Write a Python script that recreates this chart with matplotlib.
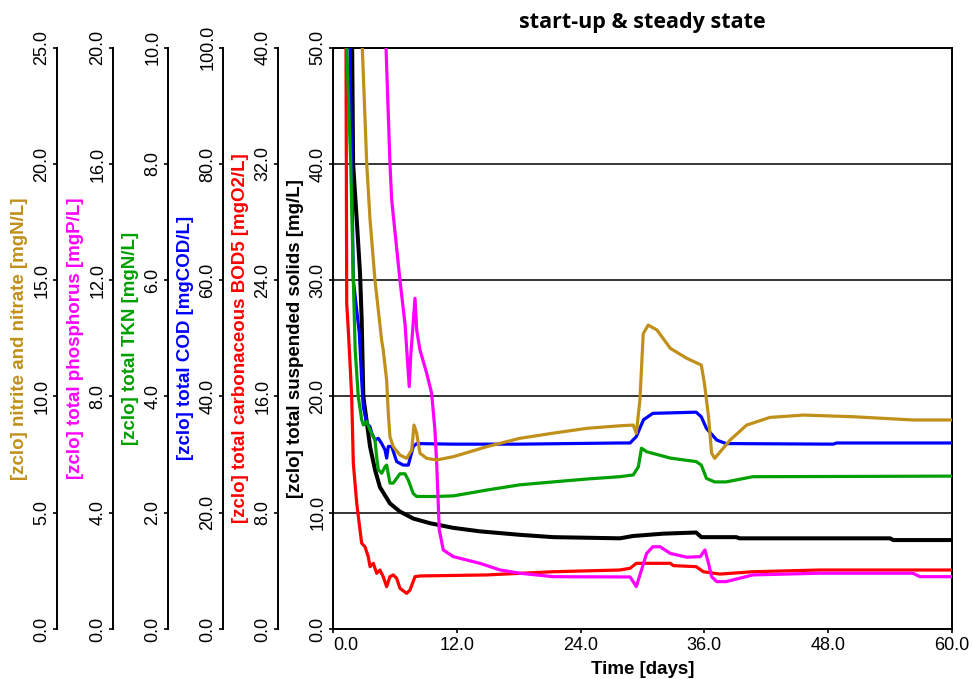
import matplotlib
matplotlib.use("Agg")
import matplotlib.pyplot as plt

plt.rcParams['font.family'] = ['Liberation Sans', 'DejaVu Sans']

# ---------------- data (time in days) ----------------
days_ticks = [0, 12, 24, 36, 48, 60]

# total suspended solids [mg/L]
tss_t = [0, 1.95, 2.30, 2.62, 2.78, 2.94, 3.59, 4.07, 4.55, 5.52, 6.49, 7.78, 9.40, 11.66,
         14.24, 18.12, 21.35, 27.81, 29.1, 32.0, 35.2, 35.7, 39.1, 39.4, 54.0, 54.3, 60]
tss_v = [250, 40.0, 35.2, 30.6, 26.6, 20.0, 15.7, 13.7, 12.2, 10.8, 10.1, 9.5, 9.1, 8.7,
         8.4, 8.1, 7.9, 7.8, 8.0, 8.2, 8.3, 7.9, 7.9, 7.8, 7.8, 7.65, 7.65]

# total carbonaceous BOD5 [mgO2/L]
bod_t = [0, 1.26, 1.33, 1.48, 1.65, 1.81, 1.97, 2.30, 2.62, 2.78, 3.10, 3.42, 3.59, 3.91,
         4.23, 4.55, 4.87, 5.20, 5.52, 5.84, 6.17, 6.49, 7.14, 7.46, 7.95, 8.43, 14.9, 21.3,
         27.8, 28.8, 29.4, 32.7, 33.0, 35.2, 35.9, 37.5, 40.7, 47.2, 60]
bod_v = [120, 40, 22.4, 20.6, 18.3, 16.0, 11.4, 8.65, 6.8, 5.9, 5.66, 4.97, 4.29, 4.52,
         3.83, 4.06, 3.6, 2.91, 3.6, 3.72, 3.49, 2.8, 2.45, 2.68, 3.6, 3.65, 3.72, 3.94,
         4.06, 4.18, 4.52, 4.52, 4.36, 4.29, 3.94, 3.78, 3.94, 4.06, 4.06]

# total COD [mgCOD/L]
cod_t = [0, 1.65, 1.81, 1.97, 2.55, 2.78, 2.94, 3.27, 3.59, 3.75, 4.07, 4.39, 4.72, 5.04,
         5.20, 5.36, 5.69, 6.17, 6.81, 7.30, 7.78, 8.11, 11.66, 18.1, 27.8, 28.8, 29.4,
         30.1, 31.0, 35.2, 35.7, 36.2, 37.2, 38.1, 48.5, 48.8, 60]
cod_v = [300, 100, 80.2, 60.0, 50.9, 42.8, 38.2, 35.4, 34.8, 33.7, 32.5, 32.8, 31.9, 30.8,
         29.4, 31.4, 31.4, 28.8, 28.2, 28.2, 31.4, 31.9, 31.8, 31.8, 32.0, 32.0, 33.1,
         36.0, 37.1, 37.3, 36.5, 34.5, 32.5, 31.9, 31.8, 32.0, 32.0]

# total TKN [mgN/L]
tkn_t = [0, 1.33, 1.72, 1.97, 2.15, 2.45, 2.78, 2.94, 3.27, 3.59, 4.07, 4.23, 4.39, 4.72,
         5.04, 5.20, 5.52, 5.84, 6.49, 6.98, 7.30, 7.78, 8.11, 10.05, 11.66, 14.9, 18.1,
         21.3, 24.6, 27.8, 29.1, 29.6, 29.9, 30.4, 32.7, 35.2, 35.7, 36.2, 37.0, 38.1,
         40.7, 60]
tkn_v = [30, 10, 8.0, 6.0, 4.8, 4.0, 3.6, 3.51, 3.57, 3.42, 3.25, 2.96, 2.74, 2.68,
         2.79, 2.82, 2.51, 2.51, 2.67, 2.67, 2.56, 2.33, 2.28, 2.28, 2.29, 2.39, 2.48,
         2.53, 2.58, 2.62, 2.65, 2.79, 3.11, 3.05, 2.94, 2.88, 2.82, 2.59, 2.53, 2.53,
         2.62, 2.63]

# total phosphorus [mgP/L]
tp_t = [0, 5.14, 5.52, 5.69, 6.49, 6.98, 7.39, 7.53, 7.95, 8.11, 8.43, 9.08, 9.56, 9.88,
        10.05, 10.3, 10.69, 11.66, 14.24, 16.2, 18.1, 21.35, 28.8, 29.4, 29.9, 30.4, 31.0,
        31.7, 32.7, 34.3, 35.6, 36.05, 36.4, 36.7, 37.2, 38.1, 40.7, 47.2, 56.2, 56.9, 60]
tp_v = [75, 20, 16.02, 14.76, 12.0, 10.5, 8.34, 9.37, 11.38, 10.29, 9.6, 8.8, 8.11, 6.85,
        5.7, 3.41, 2.72, 2.49, 2.26, 2.03, 1.92, 1.8, 1.79, 1.46, 2.03, 2.6, 2.83,
        2.83, 2.6, 2.47, 2.49, 2.72, 2.26, 1.8, 1.63, 1.63, 1.86, 1.92, 1.92, 1.8, 1.8]

# nitrite and nitrate [mgN/L]
nox_t = [0, 2.84, 3.27, 3.59, 4.07, 4.72, 4.87, 5.20, 5.36, 5.52, 5.84, 6.49, 7.14, 7.63,
         7.85, 8.11, 8.43, 9.08, 10.05, 11.66, 14.9, 18.1, 21.3, 24.6, 27.8, 29.1, 29.4,
         29.75, 30.07, 30.55, 31.4, 32.7, 34.3, 35.7, 36.0, 36.4, 36.7, 37.0, 38.5, 40.1,
         42.35, 45.6, 50.4, 56.2, 60]
nox_v = [60, 25, 20.0, 17.6, 15.0, 12.4, 12.0, 10.7, 9.28, 8.27, 7.84, 7.48, 7.34, 7.7,
         8.77, 8.42, 7.56, 7.34, 7.27, 7.41, 7.84, 8.2, 8.42, 8.63, 8.74, 8.77, 8.42,
         9.85, 12.7, 13.07, 12.86, 12.07, 11.64, 11.35, 10.57, 9.13, 7.56, 7.34, 8.13, 8.77,
         9.1, 9.2, 9.13, 8.99, 8.99]

# axis maxima (6 ticks each, 0 .. max)
tss_max, bod_max, cod_max, tkn_max, tp_max, nox_max = 50, 40, 100, 10, 20, 25

# ---------------- figure ----------------
W, H = 972, 679
fig = plt.figure(figsize=(W / 100, H / 100), dpi=100)
L, R, T, B = 333, 952, 47.7, 629
ax = fig.add_axes([L / W, 1 - B / H, (R - L) / W, (B - T) / H])
PT = 0.72  # points per pixel

TICK_FS = 13
LAB_FS = 13.5

def fmt(vals):
    return [f"{v:.1f}" for v in vals]

def ticks_for(vmax):
    return [vmax * i / 5 for i in range(6)]

# host axis: TSS
ax.set_ylim(0, tss_max)
for s in ax.spines.values():
    s.set_linewidth(1.4)
    s.set_color('black')
ax.set_yticks(ticks_for(tss_max), labels=fmt(ticks_for(tss_max)), rotation=90, va='center')
ax.tick_params(axis='y', direction='out', length=4 * PT, width=1.2, labelsize=TICK_FS, pad=2)
ax.set_ylabel('[zclo] total suspended solids [mg/L]', fontweight='bold', fontsize=LAB_FS,
              labelpad=4, color='black')
ax.grid(axis='y', color='black', linewidth=1.1)
ax.set_axisbelow(True)

ax.plot(tss_t, tss_v, color='black', lw=2.9, solid_joinstyle='round')

series = [
    (bod_t, bod_v, bod_max, '#FF0000', '[zclo] total carbonaceous BOD5 [mgO2/L]', 55),
    (cod_t, cod_v, cod_max, '#0000FF', '[zclo] total COD [mgCOD/L]', 110),
    (tkn_t, tkn_v, tkn_max, '#00A000', '[zclo] total TKN [mgN/L]', 165),
    (tp_t, tp_v, tp_max, '#FF00FF', '[zclo] total phosphorus [mgP/L]', 220),
    (nox_t, nox_v, nox_max, '#C0901A', '[zclo] nitrite and nitrate [mgN/L]', 276),
]

for t, v, vmax, color, label, off in series:
    tw = ax.twinx()
    tw.set_ylim(0, vmax)
    for side in ('right', 'top', 'bottom'):
        tw.spines[side].set_visible(False)
    tw.spines['left'].set_visible(True)
    tw.spines['left'].set_linewidth(1.4)
    tw.spines['left'].set_position(('outward', off * PT))
    tw.yaxis.set_ticks_position('left')
    tw.yaxis.set_label_position('left')
    tk = ticks_for(vmax)
    tw.set_yticks(tk, labels=fmt(tk), rotation=90, va='center')
    tw.tick_params(axis='y', direction='out', length=4 * PT, width=1.2, labelsize=TICK_FS, pad=2)
    tw.set_ylabel(label, color=color, fontweight='bold', fontsize=LAB_FS, labelpad=4)
    tw.plot(t, v, color=color, lw=2.3, solid_joinstyle='round')
    tw.set_ylim(0, vmax)

# x axis (set after all plotting so shared autoscale does not move it)
ax.set_xlim(0, 60)
ax.set_xticks(days_ticks, labels=fmt(days_ticks))
ax.tick_params(axis='x', direction='out', length=4 * PT, width=1.2, labelsize=TICK_FS, pad=3)
ax.get_xticklabels()[0].set_horizontalalignment('left')
ax.set_xlabel('Time [days]', fontweight='bold', fontsize=LAB_FS, labelpad=5)

fig.text((L + R) / 2 / W, 1 - 28 / H, 'start-up & steady state', ha='center', va='baseline',
         fontweight='bold', fontsize=15.5, family=['Open Sans', 'DejaVu Sans'])

fig.savefig('out.png', dpi=100)
